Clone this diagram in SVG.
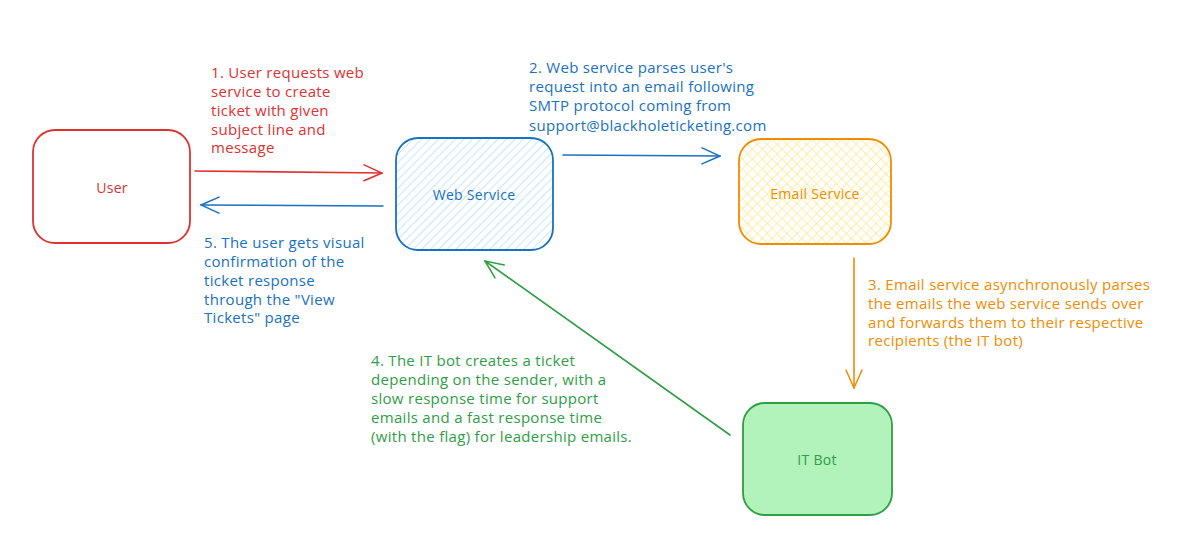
<svg xmlns="http://www.w3.org/2000/svg" width="1180" height="559" viewBox="0 0 1180 559">
<defs>
<pattern id="hatch" patternUnits="userSpaceOnUse" width="6" height="6" patternTransform="rotate(45)">
<line x1="0" y1="0" x2="0" y2="6" stroke="#a5d8ff" stroke-width="1.3"/>
</pattern>
<pattern id="cross" patternUnits="userSpaceOnUse" width="7" height="7" patternTransform="rotate(45)">
<line x1="0" y1="0" x2="0" y2="7" stroke="#ffe066" stroke-width="1.1"/>
<line x1="0" y1="0" x2="7" y2="0" stroke="#ffe066" stroke-width="1.1"/>
</pattern>
<marker id="ar-red" viewBox="0 0 20 20" refX="19" refY="10" markerWidth="20" markerHeight="20" markerUnits="userSpaceOnUse" orient="auto">
<path d="M1,2 L19,10 L1,18" fill="none" stroke="#e03131" stroke-width="1.5" stroke-linecap="round"/>
</marker>
<marker id="ar-blue" viewBox="0 0 20 20" refX="19" refY="10" markerWidth="20" markerHeight="20" markerUnits="userSpaceOnUse" orient="auto">
<path d="M1,2 L19,10 L1,18" fill="none" stroke="#1971c2" stroke-width="1.5" stroke-linecap="round"/>
</marker>
<marker id="ar-orange" viewBox="0 0 20 20" refX="19" refY="10" markerWidth="20" markerHeight="20" markerUnits="userSpaceOnUse" orient="auto">
<path d="M1,2 L19,10 L1,18" fill="none" stroke="#f08c00" stroke-width="1.5" stroke-linecap="round"/>
</marker>
<marker id="ar-green" viewBox="0 0 20 20" refX="19" refY="10" markerWidth="20" markerHeight="20" markerUnits="userSpaceOnUse" orient="auto">
<path d="M1,2 L19,10 L1,18" fill="none" stroke="#2f9e44" stroke-width="1.5" stroke-linecap="round"/>
</marker>
</defs>
<style>
text{font-family:"Open Sans","Liberation Sans",sans-serif;}
.lbl{font-size:15px;letter-spacing:0.3px;}
.nl{font-size:14px;text-anchor:middle;dominant-baseline:central;letter-spacing:0.3px;}
.box{stroke-width:1.8;}
.conn{fill:none;stroke-width:1.6;stroke-linecap:round;}
.red{fill:#e03131;}.blue{fill:#1971c2;}.orange{fill:#f08c00;}.green{fill:#2f9e44;}
</style>
<rect width="1180" height="559" fill="#ffffff"/>
<g id="user">
<rect class="box" x="33" y="130" width="157" height="113" rx="22" fill="#ffffff" stroke="#e03131"/>
<text class="nl red" x="112" y="187">User</text>
</g>
<g id="web-service">
<rect x="396" y="138" width="157" height="112" rx="22" fill="url(#hatch)"/>
<rect class="box" x="396" y="138" width="157" height="112" rx="22" fill="none" stroke="#1971c2"/>
<text class="nl blue" x="474" y="194">Web Service</text>
</g>
<g id="email-service">
<rect x="739" y="139" width="152" height="105" rx="22" fill="url(#cross)"/>
<rect class="box" x="739" y="139" width="152" height="105" rx="22" fill="none" stroke="#f08c00"/>
<text class="nl orange" x="815" y="193">Email Service</text>
</g>
<g id="it-bot">
<rect class="box" x="743" y="403" width="149" height="112" rx="22" fill="#b2f2bb" stroke="#2f9e44"/>
<text class="nl green" x="817" y="459">IT Bot</text>
</g>
<g id="connectors">
<path class="conn" d="M195,171 L382,173" stroke="#e03131" marker-end="url(#ar-red)"/>
<path class="conn" d="M383,206 L201,205" stroke="#1971c2" marker-end="url(#ar-blue)"/>
<path class="conn" d="M563,155 L720,156" stroke="#1971c2" marker-end="url(#ar-blue)"/>
<path class="conn" d="M854,258 L854,388" stroke="#f08c00" marker-end="url(#ar-orange)"/>
<path class="conn" d="M730,435 L485,261" stroke="#2f9e44" marker-end="url(#ar-green)"/>
</g>
<g id="labels">
<text class="lbl red">
<tspan x="211" y="78">1. User requests web</tspan>
<tspan x="211" y="97">service to create</tspan>
<tspan x="211" y="116">ticket with given</tspan>
<tspan x="211" y="135">subject line and</tspan>
<tspan x="211" y="153">message</tspan>
</text>
<text class="lbl blue">
<tspan x="529" y="73">2. Web service parses user's</tspan>
<tspan x="529" y="92">request into an email following</tspan>
<tspan x="529" y="111">SMTP protocol coming from</tspan>
<tspan x="529" y="131">support@blackholeticketing.com</tspan>
</text>
<text class="lbl orange">
<tspan x="868" y="290">3. Email service asynchronously parses</tspan>
<tspan x="868" y="309">the emails the web service sends over</tspan>
<tspan x="868" y="328">and forwards them to their respective</tspan>
<tspan x="868" y="346">recipients (the IT bot)</tspan>
</text>
<text class="lbl green">
<tspan x="371" y="366">4. The IT bot creates a ticket</tspan>
<tspan x="371" y="385">depending on the sender, with a</tspan>
<tspan x="371" y="404">slow response time for support</tspan>
<tspan x="371" y="423">emails and a fast response time</tspan>
<tspan x="371" y="442">(with the flag) for leadership emails.</tspan>
</text>
<text class="lbl blue">
<tspan x="204" y="248">5. The user gets visual</tspan>
<tspan x="204" y="267">confirmation of the</tspan>
<tspan x="204" y="286">ticket response</tspan>
<tspan x="204" y="305">through the "View</tspan>
<tspan x="204" y="323">Tickets" page</tspan>
</text>
</g>
</svg>
